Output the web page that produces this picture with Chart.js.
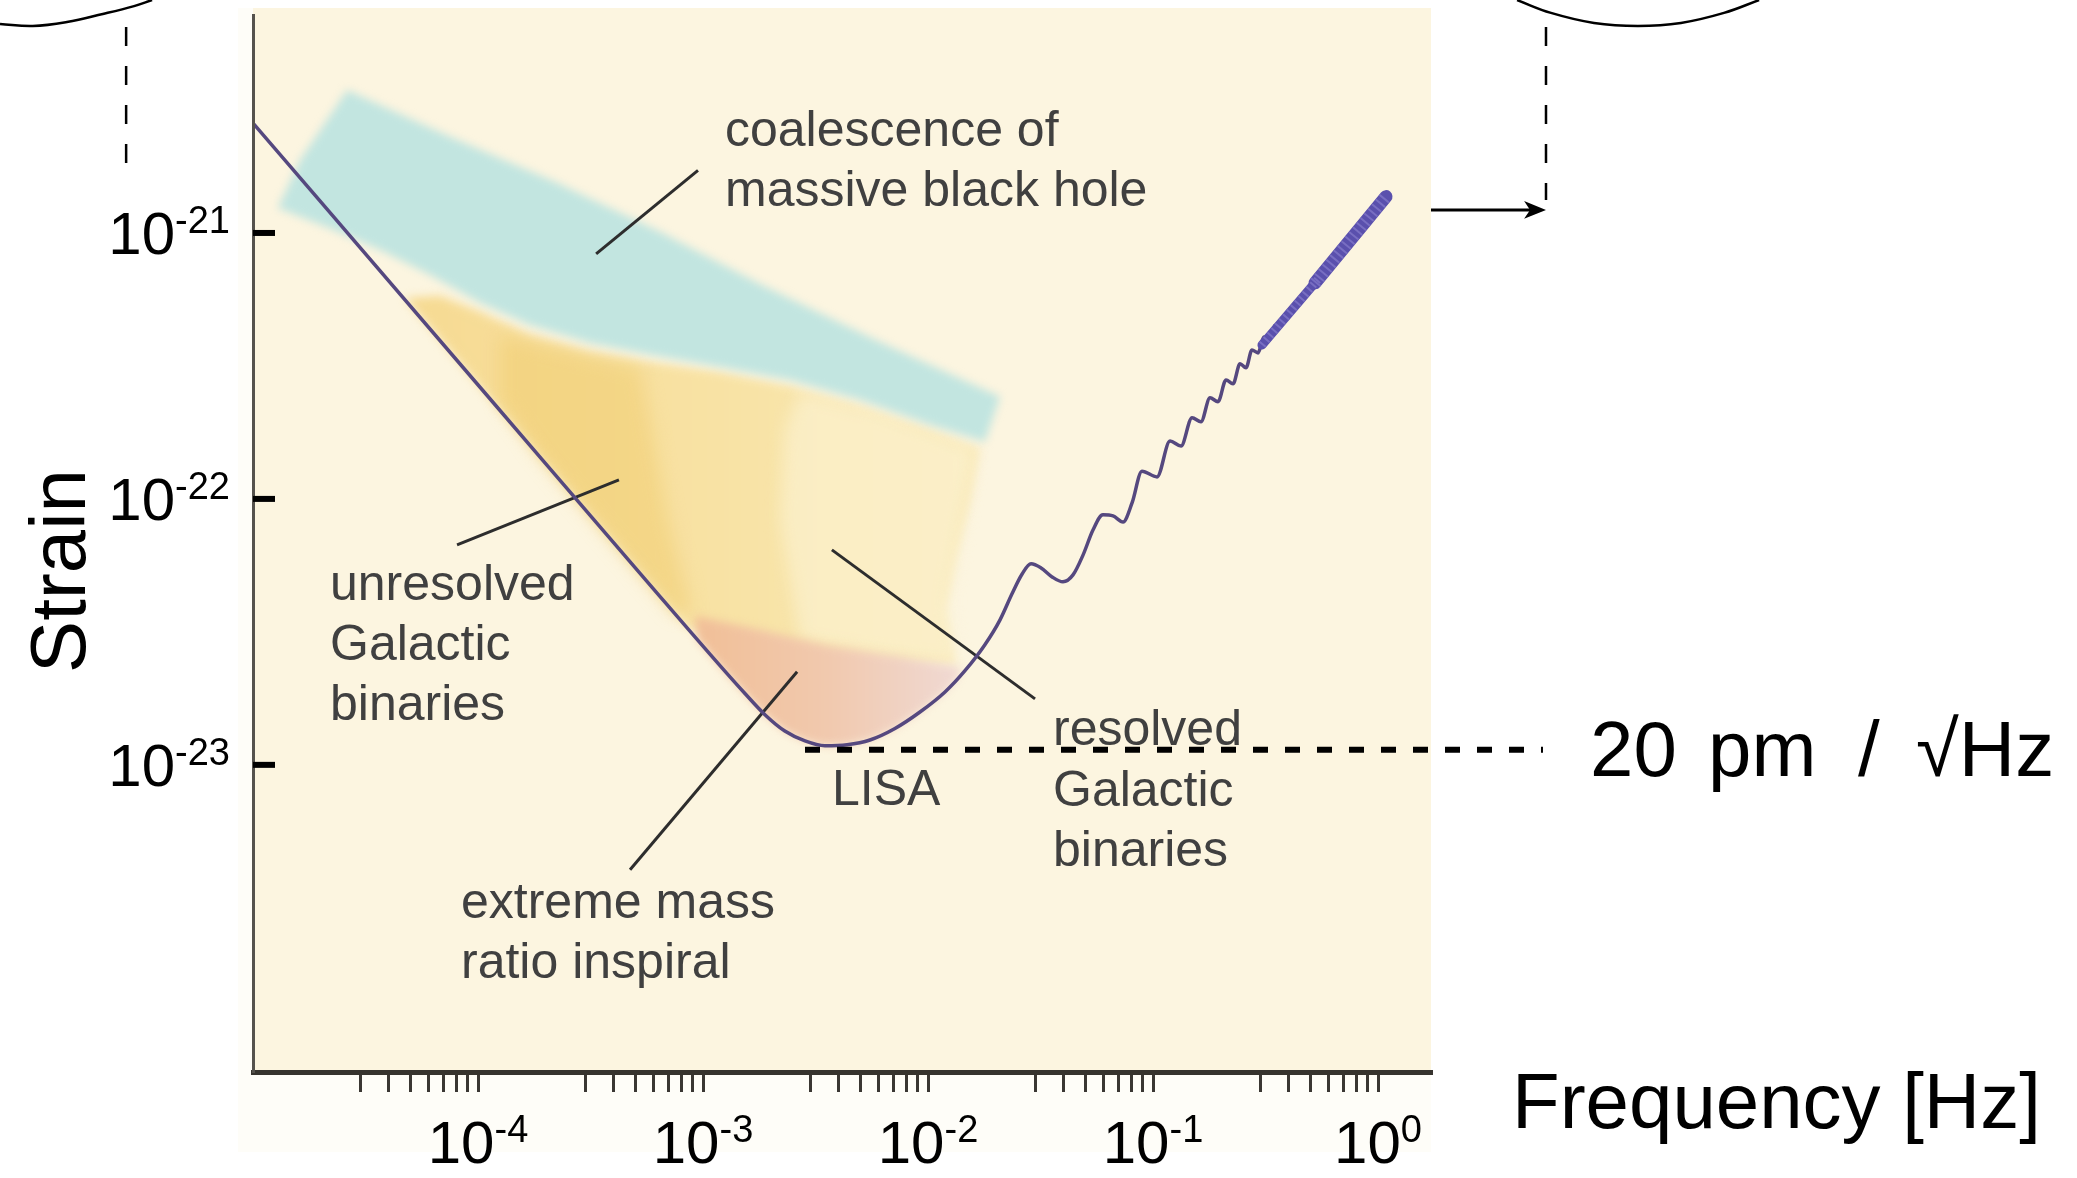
<!DOCTYPE html>
<html>
<head>
<meta charset="utf-8">
<title>LISA sensitivity</title>
<script src="https://cdn.jsdelivr.net/npm/chart.js"></script>
<style>
  html, body { margin: 0; padding: 0; background: #fff; }
  canvas { display: block; }
</style>
</head>
<body>
<canvas id="lisa" width="2077" height="1178"></canvas>
<script>
// frequency in Hz, strain dimensionless

// LISA sensitivity curve
const lisaFreq = [1.0e-5, 1.13e-4, 5.81e-4, 1.19e-3, 1.54e-3, 1.89e-3, 2.31e-3, 2.84e-3, 3.48e-3, 4.37e-3,
  5.52e-3, 7.13e-3, 9.21e-3, 1.19e-2, 1.46e-2, 1.79e-2, 2.09e-2, 2.36e-2, 2.62e-2, 2.87e-2,
  3.18e-2, 3.56e-2, 3.98e-2, 4.41e-2, 4.89e-2, 5.41e-2, 5.99e-2, 6.64e-2, 7.36e-2, 8.07e-2,
  8.93e-2, 0.1042, 0.119, 0.1332, 0.1491, 0.1634, 0.1792, 0.1945, 0.2111, 0.2268,
  0.2436, 0.259, 0.2754, 0.2929, 0.3113, 0.3278, 0.3485];
const lisaStrain = [2.59e-21, 2.38e-22, 4.75e-23, 2.36e-23, 1.85e-23, 1.54e-23, 1.34e-23, 1.23e-23, 1.18e-23, 1.19e-23,
  1.24e-23, 1.37e-23, 1.58e-23, 1.88e-23, 2.26e-23, 2.83e-23, 3.51e-23, 4.39e-23, 5.22e-23, 5.70e-23,
  5.50e-23, 5.09e-23, 4.88e-23, 5.18e-23, 6.16e-23, 7.64e-23, 8.71e-23, 8.63e-23, 8.19e-23, 9.66e-23,
  1.27e-22, 1.21e-22, 1.65e-22, 1.58e-22, 2.02e-22, 1.95e-22, 2.40e-22, 2.32e-22, 2.80e-22, 2.71e-22,
  3.22e-22, 3.11e-22, 3.63e-22, 3.54e-22, 4.06e-22, 3.96e-22, 4.51e-22];

// high-frequency end, where the ripples merge into one band
const rippleLowFreq = [0.305, 0.552];
const rippleLowStrain = [3.79e-22, 6.83e-22];
const rippleHighFreq = [0.525, 1.085];
const rippleHighStrain = [6.49e-22, 1.37e-21];

// coalescence of massive black holes
const mbhFreq = [2.62e-5, 7.51e-5, 2.22e-4, 6.44e-4, 1.79e-3, 6.12e-3, 2.09e-2, 1.79e-2, 1.02e-2, 4.99e-3,
  2.44e-3, 1.19e-3, 5.81e-4, 3.15e-4, 1.70e-4, 1.02e-4, 6.12e-5, 3.67e-5, 2.20e-5, 1.29e-5, 1.62e-5];
const mbhStrain = [3.45e-21, 2.30e-21, 1.55e-21, 1.01e-21, 6.43e-22, 3.89e-22, 2.42e-22, 1.64e-22, 1.90e-22, 2.36e-22,
  2.80e-22, 3.13e-22, 3.48e-22, 3.86e-22, 4.51e-22, 5.46e-22, 6.95e-22, 8.63e-22, 1.04e-21, 1.24e-21, 1.88e-21];

// galactic binaries (whole yellow area)
const gbFreq = [6.78e-5, 1.02e-4, 1.70e-4, 3.15e-4, 5.81e-4, 1.19e-3, 2.44e-3, 4.99e-3, 1.02e-2, 1.70e-2,
  1.54e-2, 1.32e-2, 1.19e-2, 1.32e-2, 7.51e-3, 3.67e-3, 1.79e-3, 9.70e-4, 8.67e-4, 3.48e-4, 1.25e-4, 4.74e-5];
const gbStrain = [5.80e-22, 5.05e-22, 4.14e-22, 3.57e-22, 3.27e-22, 3.00e-22, 2.66e-22, 2.24e-22, 1.82e-22, 1.55e-22,
  9.91e-23, 5.90e-23, 3.83e-23, 2.38e-23, 2.38e-23, 2.59e-23, 2.95e-23, 3.22e-23, 3.22e-23, 7.85e-23, 2.16e-22, 5.70e-22];

// unresolved part, darker core along the curve
const ugbFreq = [1.25e-4, 2.56e-4, 5.25e-4, 5.93e-4, 6.99e-4, 8.93e-4, 7.59e-4, 3.48e-4, 1.89e-4, 1.25e-4];
const ugbStrain = [4.10e-22, 3.57e-22, 3.11e-22, 1.82e-22, 8.34e-23, 3.76e-23, 3.66e-23, 7.85e-23, 1.44e-22, 2.36e-22];

// resolved part, paler
const rgbFreq = [2.70e-3, 6.12e-3, 1.62e-2, 1.42e-2, 1.23e-2, 1.36e-2, 6.12e-3, 2.70e-3, 2.20e-3, 2.31e-3];
const rgbStrain = [2.53e-22, 2.13e-22, 1.53e-22, 8.34e-23, 4.17e-23, 2.38e-23, 2.59e-23, 2.95e-23, 8.34e-23, 1.82e-22];

// extreme mass ratio inspiral
const emriFreq = [9.21e-4, 1.79e-3, 3.67e-3, 7.51e-3, 1.39e-2, 1.36e-2, 1.19e-2, 9.21e-3, 7.13e-3, 5.52e-3,
  4.37e-3, 3.48e-3, 2.84e-3, 2.31e-3, 1.89e-3, 1.54e-3, 1.19e-3, 9.40e-4];
const emriStrain = [3.63e-23, 3.22e-23, 2.80e-23, 2.55e-23, 2.32e-23, 2.13e-23, 1.88e-23, 1.58e-23, 1.37e-23, 1.24e-23,
  1.19e-23, 1.18e-23, 1.23e-23, 1.34e-23, 1.54e-23, 1.85e-23, 2.36e-23, 2.98e-23];

// leader lines from the labels
const mbhLeadFreq = [3.35e-4, 9.50e-4];
const mbhLeadStrain = [8.34e-22, 1.72e-21];
const ugbLeadFreq = [8.07e-5, 4.23e-4];
const ugbLeadStrain = [6.72e-23, 1.18e-22];
const rgbLeadFreq = [3.74e-3, 2.99e-2];
const rgbLeadStrain = [6.43e-23, 1.77e-23];
const emriLeadFreq = [2.62e-3, 4.74e-4];
const emriLeadStrain = [2.24e-23, 4.03e-24];

// 20 pm / sqrt(Hz) floor
const floorFreq = [2.84e-3, 5.41];
const floorStrain = [1.14e-23, 1.14e-23];

// callout frame above the plot (arcs listed right to left)
const leftGuideFreq = [2.73e-6, 2.73e-6];
const leftGuideStrain = [5.95e-21, 1.54e-21];
const rightGuideFreq = [5.58, 5.58];
const rightGuideStrain = [5.95e-21, 1.33e-21];
const arrowFreq = [1.72, 4.9];
const arrowStrain = [1.22e-21, 1.22e-21];
const arrowHeadFreq = [5.58, 4.46, 4.74, 4.46];
const arrowHeadStrain = [1.22e-21, 1.32e-21, 1.22e-21, 1.13e-21];
const leftArcFreq = [3.56e-6, 2.96e-6, 2.15e-6, 1.49e-6, 1.05e-6, 7.51e-7];
const leftArcStrain = [7.51e-21, 7.13e-21, 6.66e-21, 6.21e-21, 6.00e-21, 6.11e-21];
const rightArcFreq = [49.4, 34.5, 22.2, 14.3, 9.12, 5.87, 4.15];
const rightArcStrain = [7.51e-21, 6.72e-21, 6.16e-21, 6.00e-21, 6.16e-21, 6.72e-21, 7.51e-21];

// ticks
const xDecades = [1e-4, 1e-3, 1e-2, 1e-1, 1];
const xDecadeExp = ['-4', '-3', '-2', '-1', '0'];
const xMinorSteps = [3, 4, 5, 6, 7, 8, 9];
const yDecades = [1e-21, 1e-22, 1e-23];
const yDecadeExp = ['-21', '-22', '-23'];

const xTickValues = [];
xDecades.forEach(d => {
  xMinorSteps.forEach(k => xTickValues.push(k * d / 10));
  xTickValues.push(d);
});

const FONT = '"Liberation Sans", Arial, Helvetica, sans-serif';

const pts = (fx, fy) => fx.map((x, i) => ({ x: x, y: fy[i] }));

function region(fx, fy, color, blur, order) {
  return {
    data: pts(fx, fy), showLine: false, fill: false, pointRadius: 0,
    backgroundColor: 'transparent', borderColor: 'transparent',
    order: order, region: { color: color, blur: blur }
  };
}

function stroke(fx, fy, opts) {
  return Object.assign({
    data: pts(fx, fy), showLine: true, fill: false, pointRadius: 0,
    backgroundColor: 'transparent', borderColor: '#2d2d2d', borderWidth: 3, order: 5
  }, opts);
}

// fills the outline of a dataset from its element positions, softened a little
const softRegions = {
  id: 'softRegions',
  beforeDatasetDraw(chart, args) {
    const ds = chart.data.datasets[args.index];
    if (!ds.region) return;
    const ctx = chart.ctx;
    const p = args.meta.data;
    ctx.save();
    ctx.filter = ds.region.blur ? 'blur(' + ds.region.blur + 'px)' : 'none';
    ctx.beginPath();
    p.forEach((pt, i) => i ? ctx.lineTo(pt.x, pt.y) : ctx.moveTo(pt.x, pt.y));
    ctx.closePath();
    let fill = ds.region.color;
    if (Array.isArray(fill)) {
      const xs = p.map(pt => pt.x);
      const g = ctx.createLinearGradient(Math.min(...xs), 0, Math.max(...xs), 0);
      fill.forEach(s => g.addColorStop(s[0], s[1]));
      fill = g;
    }
    ctx.fillStyle = fill;
    ctx.fill();
    ctx.restore();
  }
};

function power(ctx, exp, x, baseline, align) {
  ctx.font = '60px ' + FONT;
  const bw = ctx.measureText('10').width;
  ctx.font = '38px ' + FONT;
  const sw = ctx.measureText(exp).width;
  const left = align === 'right' ? x - bw - sw : x - (bw + sw) / 2;
  ctx.textAlign = 'left';
  ctx.font = '60px ' + FONT;
  ctx.fillText('10', left, baseline);
  ctx.font = '38px ' + FONT;
  ctx.fillText(exp, left + bw, baseline - 21);
}

const insetLabels = [
  ['coalescence of', 725, 146],
  ['massive black hole', 725, 206],
  ['unresolved', 330, 600],
  ['Galactic', 330, 660],
  ['binaries', 330, 720],
  ['resolved', 1053, 745],
  ['Galactic', 1053, 806],
  ['binaries', 1053, 866],
  ['LISA', 832, 805],
  ['extreme mass', 461, 918],
  ['ratio inspiral', 461, 978]
];

// the noise-floor note is set with wide word spacing
const floorNote = [['20', 1590], ['pm', 1708], ['/', 1858], ['\u221AHz', 1916]];

const slideText = {
  id: 'slideText',
  beforeDraw(chart) {
    const { ctx, chartArea: a } = chart;
    ctx.save();
    ctx.fillStyle = '#fefdf8';
    ctx.fillRect(a.left - 15, 8, a.right - a.left + 15, a.bottom + 72);
    ctx.fillStyle = '#fcf5e0';
    ctx.fillRect(a.left, 8, a.right - a.left, a.bottom - 8);
    ctx.restore();
  },
  beforeDatasetsDraw(chart) {
    const ctx = chart.ctx;
    ctx.save();
    ctx.filter = 'blur(0.7px)';
    ctx.fillStyle = '#404040';
    ctx.font = '50px ' + FONT;
    ctx.textAlign = 'left';
    ctx.textBaseline = 'alphabetic';
    insetLabels.forEach(l => ctx.fillText(l[0], l[1], l[2]));
    ctx.restore();
  },
  afterDraw(chart) {
    const { ctx, chartArea: a, scales } = chart;
    ctx.save();
    ctx.fillStyle = '#000';
    ctx.textBaseline = 'alphabetic';

    yDecades.forEach((v, i) => {
      const py = scales.y.getPixelForValue(v);
      ctx.fillRect(a.left, py - 3, 22, 6);
      power(ctx, yDecadeExp[i], 230, py + 21, 'right');
    });
    xDecades.forEach((v, i) => {
      power(ctx, xDecadeExp[i], scales.x.getPixelForValue(v), 1163, 'center');
    });

    ctx.textAlign = 'left';
    ctx.font = '78px ' + FONT;
    ctx.fillText('Frequency [Hz]', 1512, 1128);
    floorNote.forEach(w => ctx.fillText(w[0], w[1], 776));

    ctx.translate(85, 571);
    ctx.rotate(-Math.PI / 2);
    ctx.textAlign = 'center';
    ctx.fillText('Strain', 0, 0);
    ctx.restore();
  }
};

const datasets = [
  region(gbFreq, gbStrain, [[0, '#f6da92'], [0.6, '#f8e3a6'], [1, '#f9e8b4']], 5, 20),
  region(ugbFreq, ugbStrain, 'rgba(238, 200, 100, 0.42)', 9, 19),
  region(rgbFreq, rgbStrain, 'rgba(252, 243, 214, 0.6)', 8, 18),
  region(emriFreq, emriStrain, [[0, '#f1bf97'], [0.5, '#f1c9ae'], [1, '#f0d9d3']], 4, 17),
  region(mbhFreq, mbhStrain, '#c2e5e0', 4, 16),

  stroke(mbhLeadFreq, mbhLeadStrain),
  stroke(ugbLeadFreq, ugbLeadStrain),
  stroke(rgbLeadFreq, rgbLeadStrain),
  stroke(emriLeadFreq, emriLeadStrain),

  stroke(lisaFreq, lisaStrain, { borderColor: '#55487f', borderWidth: 3.5, cubicInterpolationMode: 'monotone', order: 3 }),
  stroke(rippleLowFreq, rippleLowStrain, { borderColor: '#5a50ad', borderWidth: 9, borderCapStyle: 'round', order: 2 }),
  stroke(rippleHighFreq, rippleHighStrain, { borderColor: '#5a50ad', borderWidth: 13, borderCapStyle: 'round', order: 2 }),
  stroke(rippleLowFreq, rippleLowStrain, { borderColor: 'rgba(165, 155, 225, 0.4)', borderWidth: 8, borderDash: [2, 4], order: 1 }),
  stroke(rippleHighFreq, rippleHighStrain, { borderColor: 'rgba(165, 155, 225, 0.4)', borderWidth: 12, borderDash: [2, 4], order: 1 }),

  stroke(floorFreq, floorStrain, { borderColor: '#000', borderWidth: 6, borderDash: [15, 17], clip: false, order: 0 }),
  stroke(leftGuideFreq, leftGuideStrain, { borderColor: '#000', borderWidth: 2.5, borderDash: [19, 20], clip: false, order: 0 }),
  stroke(rightGuideFreq, rightGuideStrain, { borderColor: '#000', borderWidth: 2.5, borderDash: [19, 20], clip: false, order: 0 }),
  stroke(arrowFreq, arrowStrain, { borderColor: '#000', borderWidth: 3, clip: false, order: 0 }),
  region(arrowHeadFreq, arrowHeadStrain, '#000', 0, 0),
  stroke(leftArcFreq, leftArcStrain, { borderColor: '#000', borderWidth: 2.5, tension: 0.4, clip: false, order: 0 }),
  stroke(rightArcFreq, rightArcStrain, { borderColor: '#000', borderWidth: 2.5, tension: 0.4, clip: false, order: 0 })
];

new Chart(document.getElementById('lisa'), {
  type: 'scatter',
  data: { datasets: datasets },
  options: {
    responsive: false,
    animation: false,
    events: [],
    layout: { padding: { top: 15, right: 646, left: 0, bottom: 0 } },
    elements: { point: { radius: 0, hoverRadius: 0 } },
    plugins: { legend: { display: false }, tooltip: { enabled: false }, colors: { enabled: false } },
    scales: {
      x: {
        type: 'logarithmic', position: 'bottom', min: 1e-5, max: 1.72, bounds: 'data',
        afterBuildTicks: s => { s.ticks = xTickValues.map(v => ({ value: v })); },
        afterFit: s => { s.height = 106; },
        ticks: { display: false },
        grid: { display: true, drawOnChartArea: false, drawTicks: true, tickLength: 20, color: '#3a3733', lineWidth: 3 },
        border: { display: true, color: '#36332e', width: 5, z: 1 }
      },
      y: {
        type: 'logarithmic', position: 'left', min: 7.0e-25, max: 6.6e-21, bounds: 'data',
        afterFit: s => { s.width = 253; },
        ticks: { display: false },
        grid: { display: false },
        border: { display: true, color: '#55524d', width: 3, z: 1 }
      }
    }
  },
  plugins: [softRegions, slideText]
});
</script>
</body>
</html>
